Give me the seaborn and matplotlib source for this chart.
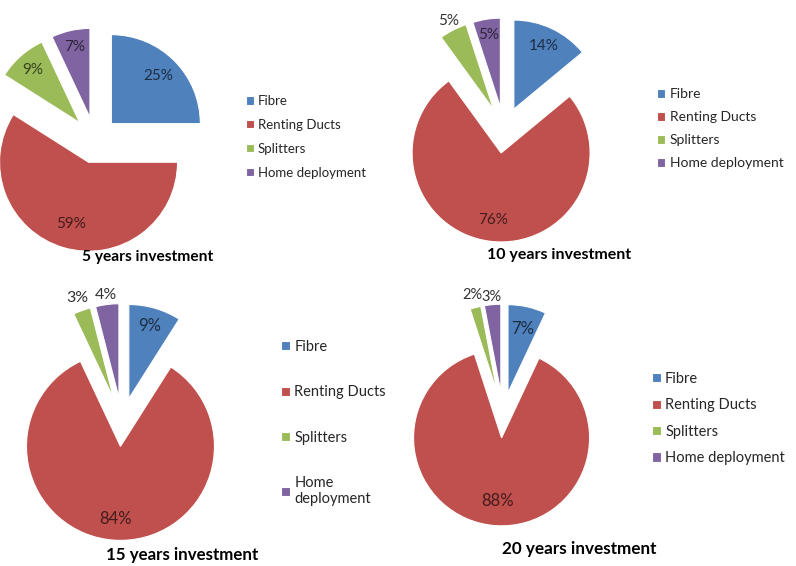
import numpy as np
import matplotlib
matplotlib.use("Agg")
import matplotlib.pyplot as plt
import seaborn as sns

# Data
categories = ["Fibre", "Renting Ducts", "Splitters", "Home deployment"]
titles = ["5 years investment", "10 years investment", "15 years investment", "20 years investment"]
shares_5y = [25, 59, 9, 7]
shares_10y = [14, 76, 5, 5]
shares_15y = [9, 84, 3, 4]
shares_20y = [7, 88, 2, 3]
all_shares = [shares_5y, shares_10y, shares_15y, shares_20y]

sns.set_theme(style="white")
plt.rcParams["font.family"] = ["Lato", "DejaVu Sans"]

palette = sns.color_palette(["#4F81BD", "#C0504D", "#9BBB59", "#8064A2"])

W, H = 796, 566
fig = plt.figure(figsize=(W / 100, H / 100), dpi=100, facecolor="white")

# layout (pixels): pie centre x, y, radius
pie_geom = [(95, 140, 89), (504, 130, 89), (122, 422, 94), (503, 415, 88)]
# distance of each % label from its slice centre, in radii
label_dist = [
    [0.75, 0.72, 0.79, 0.81],
    [0.78, 0.76, 1.12, 0.82],
    [0.80, 0.77, 1.14, 1.10],
    [0.74, 0.72, 1.15, 1.09],
]
pct_size = [11, 11, 12, 12]
outside_size = [11, 11, 11.5, 10.5]
title_pos = [(148, 257), (559, 255), (182, 555), (579, 549)]
title_size = [11.2, 11.5, 12.2, 12.3]
# legend: x, y, label spacing, font size
legend_pos = [(246, 95, 0.9, 9.5), (657, 88, 0.8, 10),
              (281, 340, 2.15, 10.5), (652, 372, 0.85, 10.5)]
legend_labels = [categories, categories,
                 ["Fibre", "Renting Ducts", "Splitters", "Home\ndeployment"], categories]


def darken(c, f=0.35):
    return tuple(np.array(c) * f)


for i, shares in enumerate(all_shares):
    cx, cy, r = pie_geom[i]
    ax = fig.add_axes([(cx - 1.25 * r) / W, 1 - (cy + 1.25 * r) / H, 2.5 * r / W, 2.5 * r / H])
    wedges, _ = ax.pie(shares, colors=palette, startangle=90, counterclock=False,
                       explode=[0.26] * 4,
                       wedgeprops=dict(edgecolor="white", linewidth=0.8))
    ax.set_xlim(-1.25, 1.25)
    ax.set_ylim(-1.25, 1.25)
    ax.set_aspect("equal")
    ax.axis("off")

    for j, w in enumerate(wedges):
        mid = np.deg2rad((w.theta1 + w.theta2) / 2)
        d = label_dist[i][j]
        x0, y0 = w.center
        inside = d < 1
        ax.text(x0 + d * np.cos(mid), y0 + d * np.sin(mid), f"{shares[j]}%",
                ha="center", va="center",
                fontsize=pct_size[i] if inside else outside_size[i],
                color=darken(palette[j]) if inside else "#333333")

    tx, ty = title_pos[i]
    fig.text(tx / W, 1 - ty / H, titles[i], ha="center", va="center",
             fontsize=title_size[i], fontweight="bold", color="black")

    lx, ly, spacing, fs = legend_pos[i]
    fig.legend(wedges, legend_labels[i], loc="upper left",
               bbox_to_anchor=(lx / W, 1 - ly / H), frameon=False,
               fontsize=fs, handlelength=0.6, handleheight=0.6,
               handletextpad=0.3, labelspacing=spacing, borderaxespad=0,
               borderpad=0)

plt.savefig("out.png", dpi=100, facecolor="white")
